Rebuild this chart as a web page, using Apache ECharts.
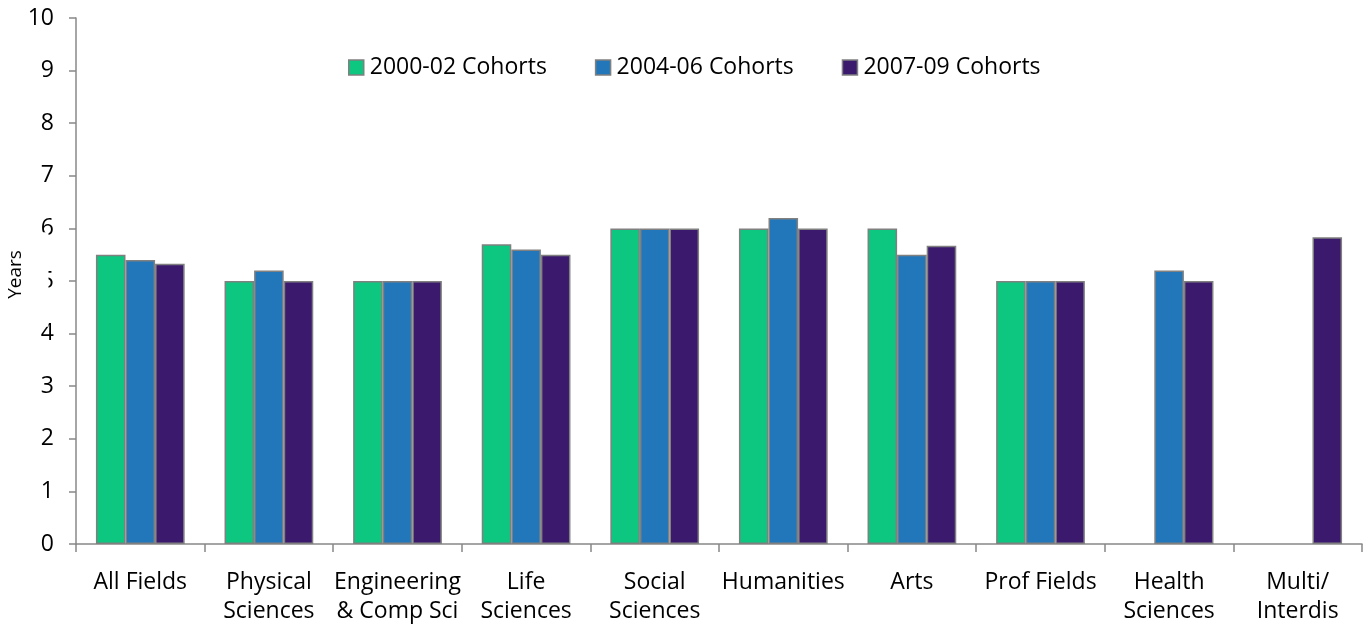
<!DOCTYPE html>
<html>
<head>
<meta charset="utf-8">
<script src="https://cdn.jsdelivr.net/npm/echarts@6/dist/echarts.min.js"></script>
<style>html,body{margin:0;padding:0;background:#fff}#c{width:1367px;height:624px}</style>
</head>
<body>
<div id="c"></div>
<script>
const categories = ["All Fields", "Physical\nSciences", "Engineering\n& Comp Sci", "Life\nSciences", "Social\nSciences", "Humanities", "Arts", "Prof Fields", "Health\nSciences", "Multi/\nInterdis"];
const seriesNames = ["2000-02 Cohorts", "2004-06 Cohorts", "2007-09 Cohorts"];
const cohort2000 = [5.5, 5.0, 5.0, 5.7, 6.0, 6.0, 6.0, 5.0, null, null];
const cohort2004 = [5.4, 5.2, 5.0, 5.6, 6.0, 6.2, 5.5, 5.0, 5.2, null];
const cohort2007 = [5.33, 5.0, 5.0, 5.5, 6.0, 6.0, 5.67, 5.0, 5.0, 5.83];
const yTicks = [0, 10, 1];
const yTitle = "Years";

const colors = ["#0DC67F", "#2277BB", "#3B1A6E"];
const font = "Open Sans";
const chart = echarts.init(document.getElementById('c'));
const mk = (name, data, color) => ({
  name, type: 'bar', data, barGap: '0%', barCategoryGap: '31%',
  itemStyle: { color, borderColor: '#808080', borderWidth: 1.5 }
});
chart.setOption({
  animation: false,
  legend: {
    left: 343, top: 51, itemWidth: 15, itemHeight: 15, itemGap: 48,
    icon: 'rect',
    itemStyle: { borderColor: '#808080', borderWidth: 1.5 },
    textStyle: { fontSize: 23, color: '#000', fontFamily: font, padding: [0, 0, 0, 1] },
    data: seriesNames
  },
  grid: { left: 76, right: 5, top: 18, bottom: 80, containLabel: false, outerBoundsMode: 'none' },
  graphic: [{
    type: 'text', x: 16, y: 279.5, rotation: Math.PI / 2, z: 100, zlevel: 0,
    style: {
      text: yTitle, fontSize: 19, fontFamily: font, fill: '#000',
      align: 'center', verticalAlign: 'middle',
      backgroundColor: '#fff', padding: [23, 18, 23, 28]
    }
  }],
  xAxis: {
    type: 'category', data: categories,
    axisLine: { lineStyle: { color: '#888', width: 1.5 } },
    axisTick: { show: true, length: 8, lineStyle: { color: '#888', width: 1.5 } },
    axisLabel: { color: '#000', fontSize: 23, margin: 24, lineHeight: 29, interval: 0, fontFamily: font }
  },
  yAxis: {
    type: 'value', min: yTicks[0], max: yTicks[1], interval: yTicks[2],
    splitLine: { show: false },
    axisLine: { show: true, lineStyle: { color: '#888', width: 1.5 } },
    axisTick: { show: true, length: 7, lineStyle: { color: '#888', width: 1.5 } },
    axisLabel: { color: '#000', fontSize: 23, margin: 22, fontFamily: font }
  },
  series: [
    mk(seriesNames[0], cohort2000, colors[0]),
    mk(seriesNames[1], cohort2004, colors[1]),
    mk(seriesNames[2], cohort2007, colors[2])
  ]
});
</script>
</body>
</html>
